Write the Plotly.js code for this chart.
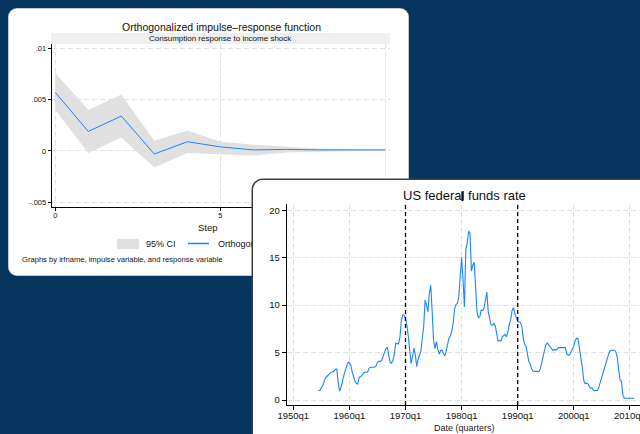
<!DOCTYPE html>
<html><head><meta charset="utf-8">
<script src="https://cdn.plot.ly/plotly-3.0.1.min.js"></script>
<style>
html,body{margin:0;padding:0;background:#05345e;width:640px;height:434px;overflow:hidden;}
#c1{position:absolute;left:9px;top:9px;width:399px;height:266px;border-radius:8px;overflow:hidden;background:#fff;box-shadow:0 0 0 1px #c4c8cc;}
#c2{position:absolute;left:253px;top:180px;width:420px;height:275px;border-radius:10px;overflow:hidden;background:#fff;box-shadow:0 0 0 1.5px #3b4048;z-index:2;}
</style></head><body>
<div id="c1"></div><div id="c2"></div>
<script>
// ---------- Data: impulse-response ----------
const irfSteps = [0,1,2,3,4,5,6,7,8,9,10];
const irfValues = [0.0057,0.0019,0.0034,-0.0003,0.0009,0.0004,0.0001,0.00015,0.0001,0.0001,0.0001];
const ciLower = [0.0040,-0.0002,0.0013,-0.0016,-0.0002,-0.0003,-0.00045,-0.00015,-0.00005,0.0,0.00002];
const ciUpper = [0.0076,0.0040,0.0055,0.0010,0.0020,0.0009,0.0006,0.0004,0.00025,0.00017,0.00012];
const irfYTicks = [-0.005,0,0.005,0.01];
const irfYTickLabels = ['-.005','0','.005','.01'];
const irfXTicks = [0,5,10];

// ---------- Data: US federal funds rate (quarterly, from 1954q3) ----------
const ffStartYear = 1954, ffStartQuarter = 3;
const fedFunds = [
1.03,0.99,
1.34,1.50,1.94,2.36, 2.48,2.69,2.81,2.93, 2.93,3.00,3.23,3.25, 1.86,0.94,1.32,2.16, 2.57,3.08,3.58,3.99,
3.93,3.70,2.94,2.30, 2.00,1.73,1.68,2.40, 2.46,2.61,2.85,2.92, 2.97,2.96,3.33,3.45, 3.46,3.49,3.46,3.58,
3.97,4.08,4.07,4.17, 4.56,4.91,5.41,5.56, 4.82,3.99,3.89,4.17, 4.79,5.98,5.94,5.92, 6.57,8.33,8.98,8.94,
8.57,7.88,6.70,5.57, 3.86,4.56,5.47,4.75, 3.55,4.30,4.74,5.14, 6.54,7.82,10.56,10.00, 9.32,11.25,12.09,9.35,
6.30,5.42,6.16,5.41, 4.83,5.20,5.28,4.87, 4.66,5.16,5.82,6.51, 6.76,7.28,8.10,9.58, 10.07,10.18,10.95,13.58,
15.05,12.69,9.84,15.85, 16.57,17.78,17.58,13.59, 14.23,14.51,11.01,9.29, 8.65,8.80,9.46,9.43, 9.69,10.56,11.39,9.27,
8.48,7.92,7.90,8.10, 7.83,6.92,6.21,6.27, 6.22,6.65,6.84,6.92, 6.66,7.16,7.98,8.47, 9.44,9.73,9.08,8.61,
8.25,8.24,8.16,7.74, 6.43,5.86,5.64,4.82, 4.02,3.77,3.26,3.04, 3.04,3.00,3.06,2.99, 3.21,3.94,4.49,5.17,
5.81,6.02,5.80,5.72, 5.36,5.24,5.31,5.28, 5.28,5.52,5.53,5.51, 5.52,5.50,5.53,4.86, 4.73,4.75,5.09,5.31,
5.68,6.27,6.52,6.47, 5.59,4.33,3.50,2.13, 1.73,1.75,1.74,1.44, 1.25,1.25,1.02,1.00, 1.00,1.01,1.43,1.95,
2.47,2.94,3.46,3.98, 4.46,4.91,5.25,5.25, 5.26,5.25,5.07,4.50, 3.18,2.09,1.94,0.51, 0.18,0.18,0.16,0.12,
0.13,0.19,0.19,0.19
];
const ffXTicks = [1950,1960,1970,1980,1990,2000,2010];
const ffXTickLabels = ['1950q1','1960q1','1970q1','1980q1','1990q1','2000q1','2010q1'];
const ffYTicks = [0,5,10,15,20];
const ffMarkedDates = [1970,1990];

const ffDates = fedFunds.map((v,i)=>{const q=(ffStartQuarter-1)+i;return ffStartYear+Math.floor(q/4)+(q%4)/4;});

const FONT = '"Liberation Sans", Arial, sans-serif';
const BLUE = '#1a85ff';
const GRID = '#e2e2e2';
const cfg = {displayModeBar:false, staticPlot:true};

// ---------- Card 1 ----------
const m1 = {l:43,r:18,t:35,b:68}, W1=399, H1=266;
const pw1 = W1-m1.l-m1.r, ph1 = H1-m1.t-m1.b;
const p1x = x => (x-9-m1.l)/pw1, p1y = y => 1-(y-9-m1.t)/ph1;

Plotly.newPlot('c1', [
  {x:irfSteps, y:ciLower, type:'scatter', mode:'lines', line:{width:0,color:'#e0e0e0'}, hoverinfo:'skip', showlegend:false},
  {x:irfSteps, y:ciUpper, type:'scatter', mode:'lines', line:{width:0,color:'#e0e0e0'}, fill:'tonexty', fillcolor:'#e0e0e0', showlegend:false},
  {x:irfSteps, y:irfValues, type:'scatter', mode:'lines', line:{width:1,color:BLUE}, showlegend:false}
], {
  width:W1, height:H1, margin:m1, paper_bgcolor:'#fff', plot_bgcolor:'#fff',
  font:{family:FONT, color:'#000'},
  xaxis:{range:[-0.1,10.14], tickvals:irfXTicks, ticks:'outside', ticklen:3, tickcolor:'#000', tickwidth:1,
    showline:true, linecolor:'#000', linewidth:1.3, zeroline:false, showgrid:true, gridcolor:GRID, griddash:'5px,3px',
    tickfont:{size:7.5,color:'#111'}, ticklabelstandoff:-2},
  yaxis:{range:[-0.00546,0.01042], tickvals:irfYTicks, ticktext:irfYTickLabels, ticks:'outside', ticklen:3, tickcolor:'#000',
    showline:true, linecolor:'#000', linewidth:1.3, zeroline:false, showgrid:true, gridcolor:GRID, griddash:'5px,3px',
    tickfont:{size:7.5,color:'#111'}},
  shapes:[
    {type:'rect', xref:'paper', yref:'paper', x0:p1x(51), x1:p1x(390), y0:p1y(44), y1:p1y(33), fillcolor:'#efefef', line:{width:0}, layer:'below'},
    {type:'rect', xref:'paper', yref:'paper', x0:p1x(117), x1:p1x(139), y0:p1y(249), y1:p1y(239), fillcolor:'#e0e0e0', line:{width:0}},
    {type:'line', xref:'paper', yref:'paper', x0:p1x(188), x1:p1x(209), y0:p1y(243.5), y1:p1y(243.5), line:{color:BLUE,width:1.3}}
  ],
  annotations:[
    {xref:'paper',yref:'paper',x:p1x(221),y:p1y(27),text:'Orthogonalized impulse–response function',showarrow:false,font:{size:10.5,color:'#111'},xanchor:'center',yanchor:'middle'},
    {xref:'paper',yref:'paper',x:p1x(220),y:p1y(38.8),text:'Consumption response to income shock',showarrow:false,font:{size:8,color:'#111'},xanchor:'center',yanchor:'middle'},
    {xref:'paper',yref:'paper',x:p1x(208),y:p1y(227),text:'Step',showarrow:false,font:{size:9.5,color:'#111'},xanchor:'center',yanchor:'middle'},
    {xref:'paper',yref:'paper',x:p1x(143.5),y:p1y(244),text:'95% CI',showarrow:false,font:{size:9,color:'#111'},xanchor:'left',yanchor:'middle'},
    {xref:'paper',yref:'paper',x:p1x(215.5),y:p1y(244),text:'Orthogonalized irf',showarrow:false,font:{size:9,color:'#111'},xanchor:'left',yanchor:'middle'},
    {xref:'paper',yref:'paper',x:p1x(19.5),y:p1y(260),text:'Graphs by irfname, impulse variable, and response variable',showarrow:false,font:{size:7.6,color:'#111'},xanchor:'left',yanchor:'middle'}
  ]
}, cfg);

// ---------- Card 2 ----------
const m2 = {l:34,r:13,t:24,b:50}, W2=420, H2=275, L2=253, T2=180;
const pw2 = W2-m2.l-m2.r, ph2 = H2-m2.t-m2.b;
const p2x = x => (x-L2-m2.l)/pw2, p2y = y => 1-(y-T2-m2.t)/ph2;
const pxPerYear = 5.61;
const x0yr = 1950 - (293.3-(L2+m2.l))/pxPerYear;
const pxPerUnit = 9.485;
const y0v = -(405-400)/pxPerUnit;

Plotly.newPlot('c2', [
  {x:ffDates, y:fedFunds, type:'scatter', mode:'lines', line:{width:1.1,color:BLUE}, showlegend:false}
], {
  width:W2, height:H2, margin:m2, paper_bgcolor:'#fff', plot_bgcolor:'#fff',
  font:{family:FONT, color:'#000'},
  xaxis:{range:[x0yr, x0yr+pw2/pxPerYear], tickvals:ffXTicks, ticktext:ffXTickLabels, ticks:'outside', ticklen:4, tickcolor:'#000',
    showline:true, linecolor:'#000', linewidth:1.3, zeroline:false, showgrid:true, gridcolor:GRID, griddash:'5px,3px',
    tickfont:{size:9.5,color:'#111'}, ticklabelstandoff:-3},
  yaxis:{range:[y0v, y0v+ph2/pxPerUnit], tickvals:ffYTicks, ticks:'outside', ticklen:4, tickcolor:'#000',
    showline:true, linecolor:'#000', linewidth:1.3, zeroline:false, showgrid:true, gridcolor:GRID, griddash:'5px,3px',
    tickfont:{size:9.5,color:'#111'}},
  shapes: ffMarkedDates.map(d=>({type:'line', xref:'x', yref:'paper', x0:d, x1:d, y0:0, y1:1, line:{color:'#000',width:1.3,dash:'4px,3px'}}))
    .concat([{type:'rect', xref:'paper', yref:'paper', x0:p2x(461.4), x1:p2x(463.4), y0:p2y(201), y1:p2y(191.5), fillcolor:'#000', line:{width:0}}]),
  annotations:[
    {xref:'paper',yref:'paper',x:p2x(464.5),y:p2y(196),text:'US federal funds rate',showarrow:false,font:{size:13,color:'#111'},xanchor:'center',yanchor:'middle'},
    {xref:'paper',yref:'paper',x:p2x(464.5),y:p2y(428),text:'Date (quarters)',showarrow:false,font:{size:9,color:'#222'},xanchor:'center',yanchor:'middle'}
  ]
}, cfg);
</script>
</body></html>
